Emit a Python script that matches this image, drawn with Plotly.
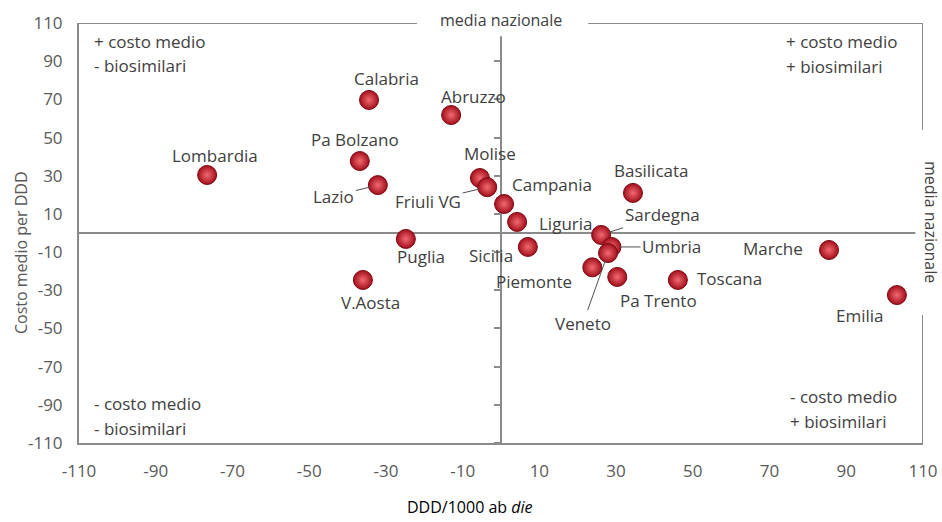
import plotly.graph_objects as go

# ---- data ----
regions = ["Lombardia", "Calabria", "Abruzzo", "Pa Bolzano", "Lazio", "Molise",
           "Friuli VG", "Campania", "Liguria", "Sicilia", "Puglia", "V.Aosta",
           "Sardegna", "Umbria", "Veneto", "Piemonte", "Pa Trento", "Basilicata",
           "Toscana", "Marche", "Emilia"]
ddd = [-76.6, -34.4, -13.0, -36.8, -32.1, -5.5,
       -3.6, 0.8, 4.2, 7.0, -24.8, -36.0,
       26.1, 28.8, 27.9, 23.8, 30.3, 34.4,
       46.1, 85.5, 103.2]
costo = [30.4, 69.7, 61.8, 37.7, 25.1, 28.8,
         24.0, 15.2, 5.8, -7.3, -3.1, -24.6,
         -1.0, -7.3, -10.5, -18.0, -23.0, 21.0,
         -24.6, -8.9, -32.5]
x_tick_vals = [-110, -90, -70, -50, -30, -10, 10, 30, 50, 70, 90, 110]
x_tick_labels = ["-110", "-90", "-70", "-50", "-30", "-10", "10", "30", "50", "70", "90", "110"]
y_tick_vals = [110, 90, 70, 50, 30, 10, -10, -30, -50, -70, -90, -110]
y_tick_labels = ["110", "90", "70", "50", "30", "10", "-10", "-30", "-50", "-70", "-90", "-110"]
center_tick_vals = [90, 70, 50, 30, 10, -10, -30, -50, -70, -90, -110]

# label placement (pixel offsets of text centre from point)
label_shift = {
    "Lombardia": (8, 19), "Calabria": (17, 21), "Abruzzo": (22, 19),
    "Pa Bolzano": (-5, 22), "Molise": (10, 25), "Campania": (48, 19),
    "Liguria": (49, -2), "Sicilia": (-37, -9), "Puglia": (15, -18),
    "Basilicata": (19, 22), "Marche": (-56, 1), "Piemonte": (-58, -14),
    "Pa Trento": (41, -24), "Toscana": (52, 1), "Emilia": (-37, -20),
    "V.Aosta": (8, -23),
}
leader = {
    "Lazio": (-44, 11), "Friuli VG": (-59, 14), "Sardegna": (61, -20),
    "Umbria": (60, 0), "Veneto": (-25, 70),
}

FONT = "Open Sans"
GREY_LINE = "#8a8a8a"
TXT = "#404040"

fig = go.Figure()
fig.add_trace(go.Scatter(
    x=ddd, y=costo, mode="markers", text=regions, hoverinfo="text",
    marker=dict(size=19, color="#a30e1c",
                gradient=dict(type="radial", color="#f26b70"),
                line=dict(width=1, color="#7a0913")),
    showlegend=False,
))
# dummy trace to attach the centre tick axis
fig.add_trace(go.Scatter(x=[None], y=[None], yaxis="y2", showlegend=False,
                         hoverinfo="skip"))

annotations = []
for name, xv, yv in zip(regions, ddd, costo):
    if name in label_shift:
        xs, ys = label_shift[name]
        annotations.append(dict(x=xv, y=yv, text=name, showarrow=False,
                                xshift=xs, yshift=ys,
                                xanchor="center", yanchor="middle",
                                font=dict(family=FONT, size=17, color=TXT)))
    elif name in leader:
        ax, ay = leader[name]
        annotations.append(dict(x=xv, y=yv, text=name, showarrow=True,
                                arrowhead=0, arrowwidth=1, arrowcolor="#505050",
                                ax=ax, ay=ay, standoff=8,
                                font=dict(family=FONT, size=17, color=TXT)))

# quadrant notes
quad = [
    (92, 42, "+ costo medio"), (92, 66, "- biosimilari"),
    (784, 42, "+ costo medio"), (784, 67, "+ biosimilari"),
    (92, 403, "- costo medio"), (92, 428, "- biosimilari"),
    (788, 396, "- costo medio"), (788, 421, "+ biosimilari"),
]
L, T, W, H = 79, 23, 844, 420
for px, py, txt in quad:
    annotations.append(dict(xref="paper", yref="paper",
                            x=(px - L) / W, y=1 - (py - T) / H,
                            xanchor="left", yanchor="middle", text=txt,
                            showarrow=False,
                            font=dict(family=FONT, size=17, color=TXT)))

# media nazionale labels
annotations.append(dict(xref="x", yref="paper", x=0, y=1, yshift=3,
                        xanchor="center", yanchor="middle",
                        text="media nazionale", showarrow=False,
                        font=dict(family=FONT, size=16, color=TXT)))
annotations.append(dict(xref="paper", yref="paper", x=1, xshift=8,
                        xanchor="center", yanchor="middle",
                        y=1 - (222 - T) / H, text="media nazionale",
                        textangle=90, showarrow=False,
                        font=dict(family=FONT, size=16, color=TXT)))
# axis titles
annotations.append(dict(xref="paper", yref="paper", x=0, xshift=-58,
                        xanchor="center", yanchor="middle",
                        y=0.5, yshift=-20, text="Costo medio per DDD",
                        textangle=-90, showarrow=False,
                        font=dict(family=FONT, size=16, color="#595959")))
annotations.append(dict(xref="paper", yref="paper", x=(470 - L) / W, y=0,
                        xanchor="center", yanchor="middle",
                        yshift=-64, text="DDD/1000 ab <i>die</i>",
                        showarrow=False,
                        font=dict(family=FONT, size=16, color="#000000")))

shapes = [
    # frame top (gap for label) and right (gap for label)
    dict(type="line", xref="x", yref="y", x0=-110, x1=-21.9, y0=110, y1=110),
    dict(type="line", xref="x", yref="y", x0=22.7, x1=110, y0=110, y1=110),
    dict(type="line", xref="x", yref="y", x0=110, x1=110, y0=110, y1=54),
    dict(type="line", xref="x", yref="y", x0=110, x1=110, y0=-43, y1=-110),
    # central cross
    dict(type="line", xref="x", yref="y", x0=0, x1=0, y0=-110, y1=103),
    dict(type="line", xref="x", yref="y", x0=-110, x1=108, y0=0, y1=0),
]
for s in shapes:
    s["line"] = dict(color=GREY_LINE, width=2)
    s["layer"] = "below"

fig.update_layout(
    width=942, height=522,
    margin=dict(l=L, r=942 - L - W, t=T, b=522 - T - H, autoexpand=False),
    paper_bgcolor="white", plot_bgcolor="white",
    font=dict(family=FONT, color="#595959"),
    xaxis=dict(range=[-110, 110], tickvals=x_tick_vals, ticktext=x_tick_labels,
               showgrid=False, zeroline=False, showline=True,
               linecolor=GREY_LINE, linewidth=2, ticks="",
               ticklabelstandoff=12, automargin=False,
               tickfont=dict(family=FONT, size=17, color="#595959")),
    yaxis=dict(range=[-110, 110], tickvals=y_tick_vals, ticktext=y_tick_labels,
               showgrid=False, zeroline=False, showline=True,
               linecolor=GREY_LINE, linewidth=2, ticks="",
               ticklabelstandoff=11, automargin=False,
               tickfont=dict(family=FONT, size=17, color="#595959")),
    yaxis2=dict(range=[-110, 110], overlaying="y", anchor="free", position=0.5,
                side="left", tickvals=center_tick_vals, ticks="outside",
                ticklen=7, tickwidth=1.5, tickcolor=GREY_LINE,
                showticklabels=False, showgrid=False, zeroline=False,
                showline=False, automargin=False),
    annotations=annotations,
    shapes=shapes,
)

fig.write_html("out.html",
               config={"displayModeBar": False},
               post_script="document.body.style.margin='0';"
                           "document.body.style.padding='0';"
                           "document.body.style.overflow='hidden';")
